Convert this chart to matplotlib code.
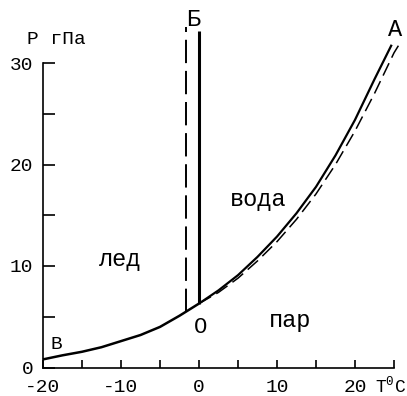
import matplotlib
matplotlib.use("Agg")
import matplotlib.pyplot as plt

# Ice sublimation curve (B -> O)
ice_t = [-20, -17.5, -15, -12.5, -10, -7.5, -5, -2.5, 0]
ice_p = [0.8, 1.2, 1.55, 2.0, 2.6, 3.2, 4.0, 5.1, 6.3]

# Water vapour curve (O -> A), solid
water_t = [0, 2.5, 5, 7.5, 10, 12.5, 15, 17.5, 20, 22.5, 24.7]
water_p = [6.3, 7.6, 9.1, 10.9, 12.9, 15.2, 17.8, 20.9, 24.4, 28.4, 31.8]

# Second vapour curve, dashed
water2_t = [0, 2.5, 5, 7.5, 10, 12.5, 15, 17.5, 20, 22.5, 25, 25.8]
water2_p = [6.3, 7.4, 8.8, 10.5, 12.4, 14.6, 17.1, 20.0, 23.3, 27.0, 31.0, 32.0]

# Melting lines (O -> Б)
melt_t = [0, 0]
melt_p = [6.3, 33.2]
melt2_t = [-1.7, -1.7]
melt2_p = [5.5, 33.5]

x_ticks = [-20, -15, -10, -5, 0, 5, 10, 15, 20, 25]
x_labels = ["-20", "", "-10", "", "0", "", "10", "", "20", ""]
y_ticks = [0, 5, 10, 15, 20, 25, 30]
y_labels = ["0", "", "10", "", "20", "", "30"]

W, H = 407, 396
MONO = "Liberation Mono"
plt.rcParams["font.family"] = [MONO, "DejaVu Sans"]
plt.rcParams["mathtext.default"] = "regular"

fig = plt.figure(figsize=(W / 100, H / 100), dpi=100)
ax = fig.add_axes([43 / W, (H - 367.5) / H, 351 / W, 304.5 / H])
ax.set_xlim(-20, 25)
ax.set_ylim(0, 30)

lw_kw = dict(color="black", clip_on=False, solid_capstyle="butt")
ax.plot(ice_t, ice_p, lw=1.8, **lw_kw)
ax.plot(water_t, water_p, lw=1.6, **lw_kw)
ax.plot(water2_t, water2_p, lw=1.1, dashes=(9, 4), **lw_kw)
ax.plot(melt_t, melt_p, lw=2.2, **lw_kw)
ax.plot(melt2_t, melt2_p, lw=1.4, dashes=(12, 4), **lw_kw)

for side in ("top", "right"):
    ax.spines[side].set_visible(False)
ax.spines["left"].set_bounds(0, 30)
ax.spines["bottom"].set_bounds(-20, 25)
ax.spines["left"].set_linewidth(1.2)
ax.spines["bottom"].set_linewidth(1.2)

tick_font = dict(family=MONO, size=14)
ax.set_xticks(x_ticks)
ax.set_xticklabels(x_labels, fontdict=tick_font)
ax.set_yticks(y_ticks)
ax.set_yticklabels(y_labels, fontdict=tick_font)
ax.tick_params(axis="y", direction="in", length=8.5, width=1.2, pad=7)
ax.tick_params(axis="x", direction="in", length=5.5, width=1.2, pad=8)

txt = dict(family=MONO, color="black", ha="center", va="center", clip_on=False)
ax.text(-0.8, 34.3, "Б", size=17, **txt)
ax.text(25.1, 33.3, "А", size=17, **txt)
ax.text(7.6, 16.6, "вода", size=17, **txt)
ax.text(-10.1, 10.6, "лед", size=17, **txt)
ax.text(11.7, 4.6, "пар", size=17, **txt)
ax.text(0.25, 3.9, "О", size=16, **txt)
ax.text(-18.3, 2.3, "В", size=14, **txt)

fig.text(27 / W, 1 - 40 / H, "P гПа", family=MONO, size=14,
         ha="left", va="center")
# Axis unit at the end of the temperature axis
fig.text(406 / W, 1 - 386 / H, r"T$^0$C", family=MONO, size=13,
         ha="right", va="center")

fig.savefig("out.png", dpi=100, facecolor="white")
